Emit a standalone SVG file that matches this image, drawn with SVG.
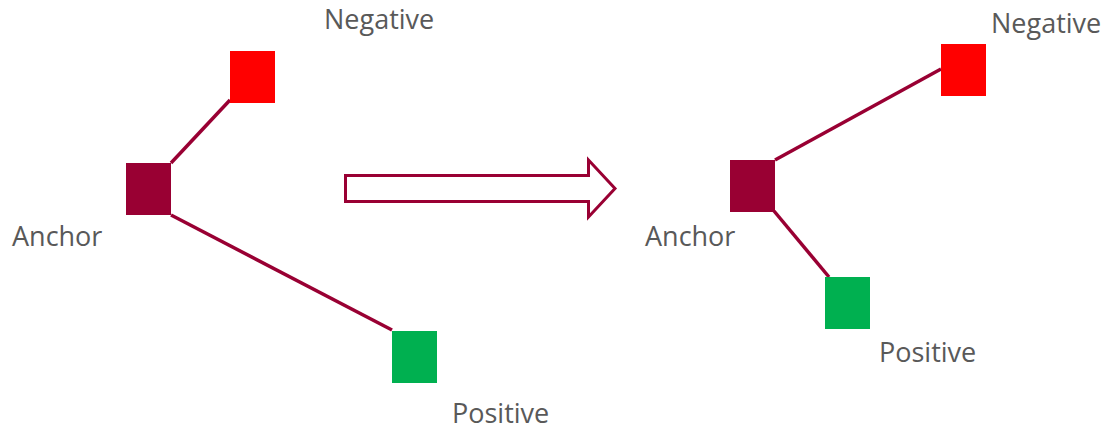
<svg xmlns="http://www.w3.org/2000/svg" width="1111" height="428" viewBox="0 0 1111 428">
  <style>
    .label { font-family: "Open Sans", "Liberation Sans", sans-serif; font-size: 27px; fill: #595959; }
    .link { stroke: #990033; stroke-width: 3.5; fill: none; }
    .anchor { fill: #990033; }
    .negative { fill: #ff0000; }
    .positive { fill: #00b050; }
  </style>
  <rect width="1111" height="428" fill="#ffffff"/>

  <!-- connectors: anchor to negative / positive, before and after training -->
  <g id="connectors">
    <line class="link" x1="171" y1="163" x2="230" y2="100"/>
    <line class="link" x1="171" y1="215" x2="392" y2="330"/>
    <line class="link" x1="775" y1="160" x2="941" y2="69"/>
    <line class="link" x1="774" y1="211" x2="829" y2="277"/>
  </g>

  <!-- left configuration -->
  <g id="left-anchor">
    <rect class="anchor" x="126" y="163" width="45" height="52"/>
    <text class="label" x="12" y="246">Anchor</text>
  </g>
  <g id="left-negative">
    <rect class="negative" x="230" y="51" width="45" height="52"/>
    <text class="label" x="324" y="29">Negative</text>
  </g>
  <g id="left-positive">
    <rect class="positive" x="392" y="331" width="45" height="52"/>
    <text class="label" x="452" y="423">Positive</text>
  </g>

  <!-- hollow block arrow between the two configurations -->
  <g id="transition-arrow">
    <path d="M345.5 175.5 H588.5 V160 L615 188.5 L588.5 217 V201.5 H345.5 Z" fill="#ffffff" stroke="#990033" stroke-width="3"/>
  </g>

  <!-- right configuration -->
  <g id="right-anchor">
    <rect class="anchor" x="730" y="160" width="45" height="52"/>
    <text class="label" x="645" y="246">Anchor</text>
  </g>
  <g id="right-negative">
    <rect class="negative" x="941" y="44" width="45" height="52"/>
    <text class="label" x="991" y="33">Negative</text>
  </g>
  <g id="right-positive">
    <rect class="positive" x="825" y="277" width="45" height="52"/>
    <text class="label" x="879" y="362">Positive</text>
  </g>
</svg>
